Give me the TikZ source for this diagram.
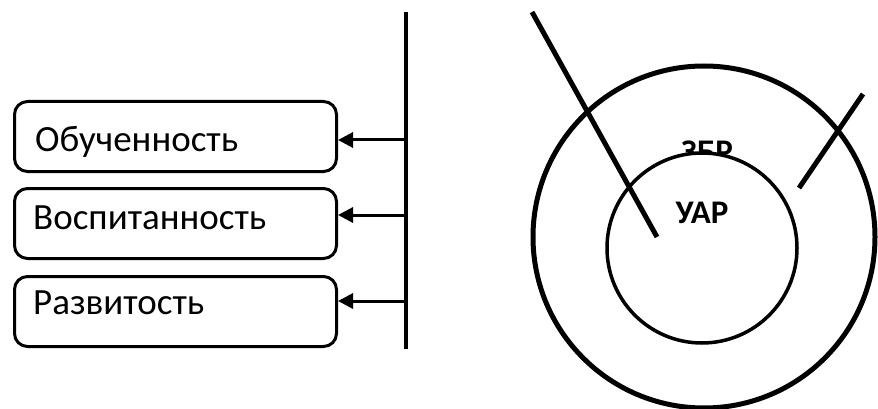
\documentclass[tikz,border=0pt]{standalone}
\usepackage{fontspec}
\setmainfont{Carlito}
\usetikzlibrary{arrows.meta}
\tikzset{
  boxnode/.style={draw, line width=3pt, rounded corners=13pt, minimum width=322pt, minimum height=70pt, inner sep=0pt, anchor=north west},
  boxtext/.style={anchor=base west, inner sep=0pt, font=\fontsize{37}{44}\selectfont},
  arr/.style={line width=3pt, -{Triangle[length=15pt,width=15pt]}},
  bold/.style={inner sep=0pt, anchor=base, font=\fontsize{33}{40}\selectfont\bfseries},
}
\begin{document}
\begin{tikzpicture}[x=1pt,y=-1pt]
\useasboundingbox (0,0) rectangle (878,409);
% boxes
\node[boxnode] (b1) at (13,100) {};
\node[boxnode] (b2) at (13,187) {};
\node[boxnode] (b3) at (13,275) {};
\node[boxtext] (t1) at (35,151) {Обученность};
\node[boxtext] (t2) at (33,229) {Воспитанность};
\node[boxtext] (t3) at (33,314) {Развитость};
% vertical line
\coordinate (vtop) at (406,12);
\coordinate (vbot) at (406,349);
\draw[line width=3.5pt] (vtop) -- (vbot);
\coordinate (v1) at (406,140);
\coordinate (v2) at (406,215);
\coordinate (v3) at (406,301);
\draw[arr] (v1) -- (v1 -| b1.east);
\draw[arr] (v2) -- (v2 -| b2.east);
\draw[arr] (v3) -- (v3 -| b3.east);
% circles
\coordinate (oc) at (704,237);
\draw[line width=5pt] (oc) circle[radius=171pt];
\node[bold] (zbr) at (707,162) {ЗБР};
\coordinate (ic) at (702,248);
\draw[line width=3.5pt, fill=white] (ic) circle[radius=95pt];
\node[bold] (uar) at (702,223) {УАР};
\coordinate (l1a) at (532,12);
\coordinate (l1b) at (657,237);
\draw[line width=5pt] (l1a) -- (l1b);
\coordinate (l2a) at (863,94);
\coordinate (l2b) at (799,188);
\draw[line width=5pt] (l2a) -- (l2b);
\end{tikzpicture}
\end{document}
